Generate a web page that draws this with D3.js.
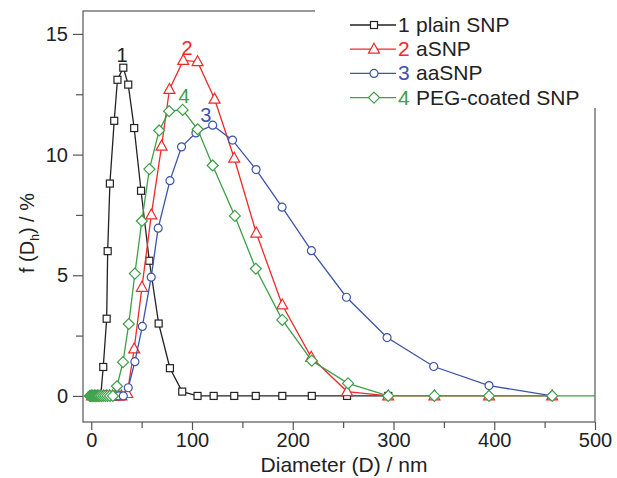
<!DOCTYPE html>
<html><head><meta charset="utf-8">
<script src="https://cdn.jsdelivr.net/npm/d3@7"></script>
<style>body{margin:0;background:#fff}svg{display:block;font-family:"Liberation Sans",Arial,sans-serif}</style>
</head><body><svg id="c" width="617" height="478"></svg>
<script>
// ---- data ----
const seriesNames = ["plain SNP","aSNP","aaSNP","PEG-coated SNP"];
const seriesNums = ["1","2","3","4"];
const seriesColors = ["#222222","#ee2a2a","#3c55a5","#3ca048"];
const seriesShapes = ["square","triangle","circle","diamond"];
const plainSNP = [[0.7,0],[2.1,0],[3.6,0],[5.1,0],[6.5,0],[8,0],[9.4,0],[11.9,1.2],[15.3,3.2],[16.3,6.0],[18.5,8.8],[22.8,11.4],[26,13.1],[31.8,13.6],[36.7,12.9],[42.6,11.1],[49.4,8.5],[57.6,5.6],[66.9,3.0],[78.1,1.15],[90.3,0.18],[105.5,0],[121.5,0],[141.9,0],[163.3,0],[189.6,0],[218.9,0],[253.9,0],[294.8,0]];
const aSNP = [[0.7,0],[3.6,0],[6.5,0],[9.4,0],[12.4,0],[15.3,0],[18.2,0],[21.1,0],[24,0],[27,0],[29.9,0],[35.7,0.1],[42.6,1.95],[50.3,4.5],[59.6,7.5],[69.8,10.35],[77.6,12.7],[91.3,13.9],[105.5,13.85],[122.4,12.3],[141.9,9.85],[163.8,6.75],[189.6,3.77],[218.4,1.6],[253.9,0.18],[294.8,0],[340.6,0],[394.8,0],[457.5,0]];
const aaSNP = [[0.7,0],[3.6,0],[6.5,0],[9.4,0],[12.4,0],[15.3,0],[18.2,0],[21.1,0],[24,0],[27,0],[31.8,0],[36.7,0.34],[43.3,1.42],[50.7,2.88],[59.5,4.92],[66.4,6.95],[78.1,8.92],[89.6,10.32],[103.9,10.9],[120.5,11.22],[140.2,10.6],[163.6,9.38],[189.4,7.82],[218.5,6.02],[253.3,4.09],[293.6,2.42],[339.9,1.22],[394.8,0.43],[457.5,0]];
const pegSNP = [[-1.5,0],[-0.5,0],[0.5,0],[1.5,0],[2.5,0],[3.5,0],[4.5,0],[5.5,0],[6.5,0],[7.5,0],[8.5,0],[10,0],[12,0],[14,0],[16.2,0],[18.6,0],[21.5,0],[25.5,0.4],[31.5,1.4],[37.2,2.98],[43.3,5.07],[50.2,7.25],[57.7,9.4],[67.4,11.0],[77.3,11.8],[90.7,11.85],[105.6,11.05],[120.5,9.55],[142.5,7.46],[163.3,5.27],[189.6,3.15],[218.9,1.46],[254.9,0.52],[294.8,0],[340.6,0],[394.8,0],[457.5,0],[520,0]];
const xTicks = [0,100,200,300,400,500];
const xMinor = [50,150,250,350,450];
const yTicks = [0,5,10,15];
const yMinor = [2.5,7.5,12.5];
// peak-label anchors (data units): series index, D, f
const peakLabels = [[0,30.5,13.84],[1,95,14.13],[2,113.8,11.36],[3,92,12.14]];
const xTitle = "Diameter (D) / nm";

// ---- layout ----
const L=83,R=595,T=11,B=422;
const svg=d3.select("#c");
const x=d3.scaleLinear().domain([-8.2,500]).range([L,R]);
const y=d3.scaleLinear().domain([-1.08,15.95]).range([B,T]);
const all=[plainSNP,aSNP,aaSNP,pegSNP];

svg.append("defs").append("clipPath").attr("id","clip").append("rect")
  .attr("x",L).attr("y",T).attr("width",R-L).attr("height",B-T);

svg.append("rect").attr("x",L).attr("y",T).attr("width",R-L).attr("height",B-T)
  .attr("fill","none").attr("stroke","#555").attr("stroke-width",1.2);

function marker(g,shape,color){
  if(shape==="square") g.append("rect").attr("x",-3.5).attr("y",-3.5).attr("width",7).attr("height",7);
  else if(shape==="triangle") g.append("path").attr("d","M0,-6L5.5,4L-5.5,4Z");
  else if(shape==="circle") g.append("circle").attr("r",4);
  else g.append("path").attr("d","M0,-5.5L5.5,0L0,5.5L-5.5,0Z");
  g.selectAll("*").attr("fill","#fff").attr("stroke",color).attr("stroke-width",1.2);
}

const line=d3.line().x(d=>x(d[0])).y(d=>y(d[1]));
const plot=svg.append("g").attr("clip-path","url(#clip)");
all.forEach((data,i)=>{
  plot.append("path").datum(data).attr("d",line).attr("fill","none")
    .attr("stroke",seriesColors[i]).attr("stroke-width",1.3);
  data.forEach(d=>{
    const g=plot.append("g").attr("transform",`translate(${x(d[0])},${y(d[1])})`);
    marker(g,seriesShapes[i],seriesColors[i]);
  });
});

peakLabels.forEach(p=>{
  svg.append("text").attr("x",x(p[1])).attr("y",y(p[2]))
    .attr("text-anchor","middle").attr("font-size",20).attr("fill",seriesColors[p[0]]).text(seriesNums[p[0]]);
});

svg.append("g").attr("transform",`translate(0,${B})`)
  .call(d3.axisBottom(x).tickValues(xTicks).tickSize(8).tickPadding(3).tickFormat(d3.format("d")));
svg.append("g").attr("transform",`translate(0,${B})`)
  .call(d3.axisBottom(x).tickValues(xMinor).tickSize(6).tickFormat(""));
svg.append("g").attr("transform",`translate(${L},0)`)
  .call(d3.axisLeft(y).tickValues(yTicks).tickSize(10).tickPadding(5).tickFormat(d3.format("d")));
svg.append("g").attr("transform",`translate(${L},0)`)
  .call(d3.axisLeft(y).tickValues(yMinor).tickSize(7).tickFormat(""));
svg.selectAll(".domain").remove();
svg.selectAll(".tick line").attr("stroke","#555").attr("stroke-width",1.2);
svg.selectAll(".tick text").attr("font-size",20).attr("fill","#222").attr("font-family","Liberation Sans, Arial, sans-serif");

svg.append("text").attr("x",(L+R)/2+5).attr("y",472).attr("text-anchor","middle")
  .attr("font-size",21).attr("fill","#222").text(xTitle);
const yt=svg.append("text").attr("transform","translate(34,233) rotate(-90)").attr("text-anchor","middle")
  .attr("font-size",20).attr("fill","#222");
yt.append("tspan").text("f (D");
yt.append("tspan").attr("font-size",12).attr("dy",5).text("h");
yt.append("tspan").attr("dy",-5).text(") / %");

// legend
svg.append("rect").attr("x",315).attr("y",0).attr("width",302).attr("height",108).attr("fill","#fff");
seriesNames.forEach((n,i)=>{
  const cy=25+i*24.2;
  svg.append("line").attr("x1",350).attr("x2",396).attr("y1",cy).attr("y2",cy)
    .attr("stroke",seriesColors[i]).attr("stroke-width",1.3);
  const g=svg.append("g").attr("transform",`translate(374,${cy})`);
  marker(g,seriesShapes[i],seriesColors[i]);
  svg.append("text").attr("x",398).attr("y",cy+7).attr("font-size",21).attr("fill",seriesColors[i]).text(seriesNums[i]);
  svg.append("text").attr("x",416).attr("y",cy+7).attr("font-size",21).attr("fill","#222").text(n);
});
</script></body></html>
